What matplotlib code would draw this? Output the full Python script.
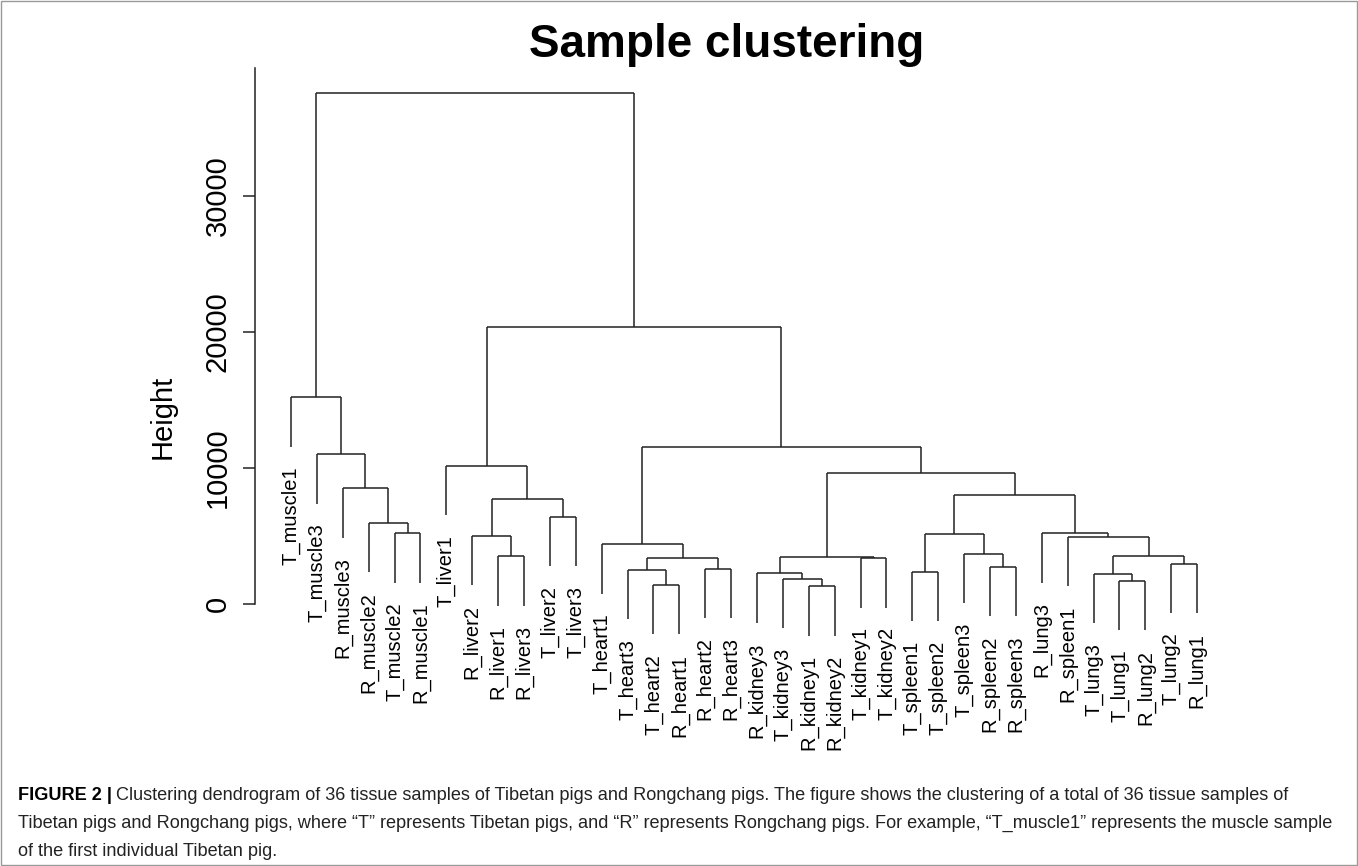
import matplotlib.pyplot as plt
from matplotlib.patches import Rectangle

# leaf labels in plotting order (left to right)
labels = [
    "T_muscle1", "T_muscle3", "R_muscle3", "R_muscle2", "T_muscle2", "R_muscle1",
    "T_liver1", "R_liver2", "R_liver1", "R_liver3", "T_liver2", "T_liver3",
    "T_heart1", "T_heart3", "T_heart2", "R_heart1", "R_heart2", "R_heart3",
    "R_kidney3", "T_kidney3", "R_kidney1", "R_kidney2", "T_kidney1", "T_kidney2",
    "T_spleen1", "T_spleen2", "T_spleen3", "R_spleen2", "R_spleen3", "R_lung3",
    "R_spleen1", "T_lung3", "T_lung1", "R_lung2", "T_lung2", "R_lung1",
]

# merge table like R's hclust: negative = leaf (1-based), positive = earlier merge (1-based)
merge_left = [-5, -4, -3, -2, -1, -9, -8, -11, 7, -7, -15, -14, -17, 12, -13,
              -21, -20, -19, -23, 18, -25, -28, -27, 21, -33, -32, -35, 26, -31,
              -30, 24, 20, 15, 10, 5]
merge_right = [-6, 1, 2, 3, 4, -10, 6, -12, 8, 9, -16, 11, -18, 13, 14,
               -22, 16, 17, -24, 19, -26, -29, 22, 23, -34, 25, -36, 27, 28,
               29, 30, 31, 32, 33, 34]
heights = [5200, 5950, 8500, 11000, 15200, 3500, 5000, 6400, 7700, 10150,
           1400, 2500, 2600, 3400, 4400, 1300, 1850, 2250, 3350, 3450,
           2350, 2750, 3700, 5150, 1700, 2200, 2950, 3500, 4950, 5200,
           8000, 9600, 11550, 20400, 37600]

hang = 0.1 * (max(heights) - min(heights))

W, H = 1358, 866
fig = plt.figure(figsize=(W / 100, H / 100), dpi=100)
plt.rcParams['font.family'] = ['Liberation Sans', 'DejaVu Sans']

# axes placed in pixel terms
ax_left, ax_right = 255, 1230
ax_top, ax_bot = 68, 645
ax = fig.add_axes([ax_left / W, 1 - ax_bot / H, (ax_right - ax_left) / W, (ax_bot - ax_top) / H])

px_per_leaf = 25.89
x0 = 1 - (291 - ax_left) / px_per_leaf
x1 = 1 + (ax_right - 291) / px_per_leaf
px_per_unit = 13.6 / 1000
ax.set_xlim(x0, x1)
ax.set_ylim(-(ax_bot - 604) / px_per_unit, (604 - ax_top) / px_per_unit)

lc = "#222222"
lw = 1.1
node_x = []
for i in range(len(heights)):
    h = heights[i]
    xs = []
    for c in (merge_left[i], merge_right[i]):
        if c < 0:
            x = -c
            ax.plot([x, x], [h, h - hang], color=lc, lw=lw, solid_capstyle='butt')
            ax.annotate(labels[x - 1], (x, h - hang), xytext=(0, -14), textcoords='offset points',
                        rotation=90, ha='center', va='top', fontsize=14.5)
        else:
            x = node_x[c - 1][0]
            ax.plot([x, x], [h, node_x[c - 1][1]], color=lc, lw=lw, solid_capstyle='butt')
        xs.append(x)
    ax.plot(xs, [h, h], color=lc, lw=lw, solid_capstyle='butt')
    node_x.append(((xs[0] + xs[1]) / 2, h))

for s in ("top", "right", "bottom"):
    ax.spines[s].set_visible(False)
ax.spines["left"].set_bounds(0, ax.get_ylim()[1])
ax.spines["left"].set_color(lc)
ax.spines["left"].set_linewidth(lw)
ax.set_xticks([])
ax.set_yticks([0, 10000, 20000, 30000])
ax.set_yticklabels(["0", "10000", "20000", "30000"], rotation=90, va="center", fontsize=21)
ax.tick_params(axis="y", length=9, width=lw, color=lc, pad=8)

fig.text(163 / W, 1 - 417 / H, "Height", rotation=90, ha="center", va="center", fontsize=21)
fig.text(727 / W, 1 - 45 / H, "Sample clustering", ha="center", va="center",
         fontsize=33, fontweight="bold")

# caption
cap_font = ['Liberation Sans Narrow', 'Liberation Sans', 'DejaVu Sans']
cap_size = 13.1
lines = [
    "Clustering dendrogram of 36 tissue samples of Tibetan pigs and Rongchang pigs. The figure shows the clustering of a total of 36 tissue samples of",
    "Tibetan pigs and Rongchang pigs, where \u201cT\u201d represents Tibetan pigs, and \u201cR\u201d represents Rongchang pigs. For example, \u201cT_muscle1\u201d represents the muscle sample",
    "of the first individual Tibetan pig.",
]
t = fig.text(18 / W, 1 - 795 / H, "FIGURE 2 |", ha="left", va="center", fontsize=cap_size,
             fontweight="bold", family=cap_font)
fig.canvas.draw()
bb = t.get_window_extent()
fig.text((bb.x1 + 4) / W, 1 - 795 / H, lines[0], ha="left", va="center", fontsize=cap_size,
         family=cap_font, color="#222222")
fig.text(18 / W, 1 - 823 / H, lines[1], ha="left", va="center", fontsize=cap_size,
         family=cap_font, color="#222222")
fig.text(18 / W, 1 - 851 / H, lines[2], ha="left", va="center", fontsize=cap_size,
         family=cap_font, color="#222222")

fig.patches.append(Rectangle((1 / W, 1 / H), 1 - 2 / W, 1 - 2 / H, transform=fig.transFigure,
                             fill=False, edgecolor="#999999", lw=1))

fig.savefig("out.png", dpi=100)
